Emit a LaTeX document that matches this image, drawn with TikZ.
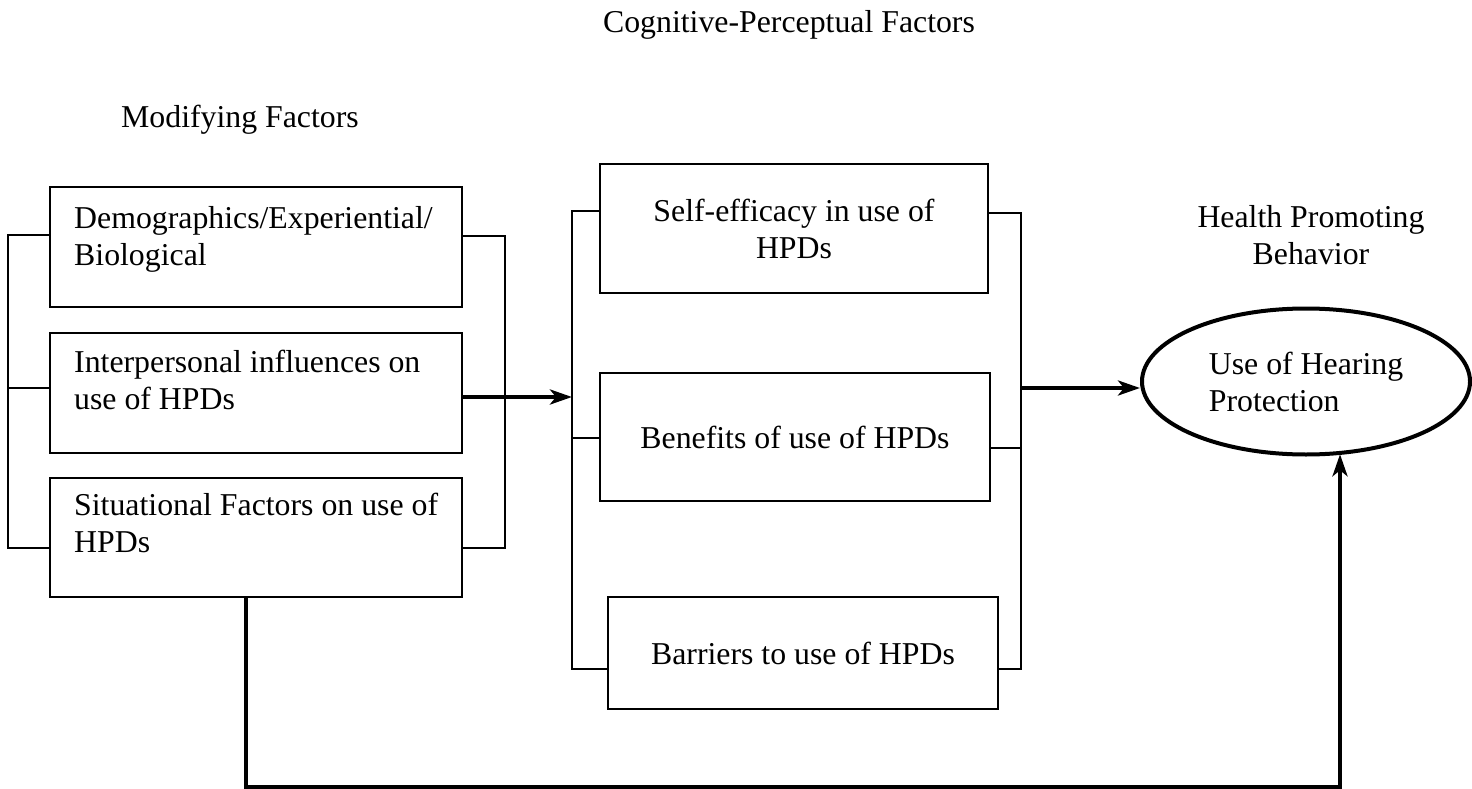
\documentclass[tikz,border=0pt]{standalone}
\usepackage{fontspec}
\setmainfont{Liberation Serif}
\usetikzlibrary{arrows.meta,shapes.geometric,calc}
\begin{document}
\begin{tikzpicture}[x=1pt,y=-1pt,
  txt/.style={font=\fontsize{31.8}{37}\selectfont, inner sep=0pt},
  box/.style={draw, line width=2.8pt, inner sep=0pt, txt, align=center},
  br/.style={line width=2pt},
  thk/.style={line width=4.5pt},
  arr/.style={thk, -{Stealth[length=22pt,width=15pt,inset=6pt]}}]
\useasboundingbox (0,0) rectangle (1472,789);

% titles
\node[txt, anchor=base] (cp) at (789,33) {Cognitive-Perceptual Factors};
\node[txt, anchor=base] (mf) at (240,128) {Modifying Factors};
\node[txt, anchor=base, align=center] (hp) at (1311,264) {Health Promoting\\Behavior};

% left boxes
\node[box, minimum width=412pt, minimum height=120pt] (b1) at (256,247) {};
\node[box, minimum width=412pt, minimum height=120pt] (b2) at (256,393) {};
\node[box, minimum width=412pt, minimum height=119pt] (b3) at (256,537.5) {};
\node[txt, anchor=base west, align=left] (t1) at (74,265) {Demographics/Experiential/\\Biological};
\node[txt, anchor=base west, align=left] (t2) at (74,409) {Interpersonal influences on\\use of HPDs};
\node[txt, anchor=base west, align=left] (t3) at (74,552) {Situational Factors on use of\\HPDs};

% middle boxes
\node[box, minimum width=388pt, minimum height=129pt] (m1) at (794,228.5) {Self-efficacy in use of\\HPDs};
\node[box, minimum width=390pt, minimum height=128pt] (m2) at (795,437) {Benefits of use of HPDs};
\node[box, minimum width=390pt, minimum height=112pt] (m3) at (803,653) {Barriers to use of HPDs};

% outcome
\node[ellipse, draw, line width=4pt, minimum width=328pt, minimum height=146pt, txt, align=left] (e) at (1306,381.5) {Use of Hearing\\Protection};

% bracket x positions
\coordinate (lx) at (8,0);
\coordinate (rx) at (505,0);
\coordinate (mlx) at (572,0);
\coordinate (mrx) at (1021,0);
\coordinate (fx) at (246,0);
\coordinate (ex) at (1340,0);

% left brackets
\draw[br] (b1.west |- 0,235) -- (lx |- 0,235) -- (lx |- 0,548) -- (b3.west |- 0,548);
\draw[br] (b2.west |- 0,388) -- (lx |- 0,388);
\draw[br] (b1.east |- 0,236) -- (rx |- 0,236) -- (rx |- 0,548) -- (b3.east |- 0,548);
\draw[arr] (b2.east |- 0,397) -- (mlx |- 0,397);

% middle brackets
\draw[br] (m1.west |- 0,211) -- (mlx |- 0,211) -- (mlx |- 0,669) -- (m3.west |- 0,669);
\draw[br] (m2.west |- 0,438) -- (mlx |- 0,438);
\draw[br] (m1.east |- 0,213) -- (mrx |- 0,213) -- (mrx |- 0,669) -- (m3.east |- 0,669);
\draw[br] (m2.east |- 0,448) -- (mrx |- 0,448);
\draw[arr] (mrx |- 0,388) -- (e.west |- 0,388);

% feedback
\draw[arr] (b3.south -| fx) -- (fx |- 0,787) -- (ex |- 0,787) -- (ex |- e.-61);
\end{tikzpicture}
\end{document}
